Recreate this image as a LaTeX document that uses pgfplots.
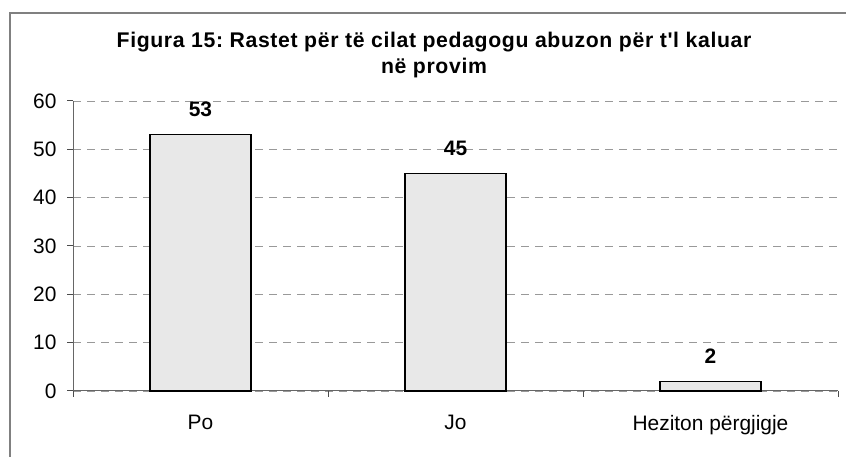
\documentclass[border=0pt]{standalone}
\usepackage{fontspec}
\setmainfont{Liberation Sans}
\newfontfamily\lib{Liberation Sans}
\usepackage{pgfplots}
\pgfplotsset{compat=1.18}
\definecolor{barfill}{RGB}{232,232,232}
\frenchspacing
\begin{document}
\begin{tikzpicture}
\useasboundingbox (0,0) rectangle (846bp,457bp);
\draw[black!50, line width=1.3bp] (10bp,-10bp) -- (10bp,444bp) -- (860bp,444bp);
\node[align=center, font=\lib\bfseries\fontsize{21.3}{27}\selectfont] at (434bp,402bp)
  {\addfontfeatures{LetterSpace=3}Figura 15: Rastet për të cilat pedagogu abuzon për t'l kaluar\\\addfontfeatures{LetterSpace=3}në provim};
\begin{axis}[
  at={(73bp,66bp)}, anchor=south west,
  width=765bp, height=290bp, scale only axis,
  xmin=-0.5, xmax=2.5, ymin=0, ymax=60,
  axis x line=bottom, axis y line=left,
  axis line style={-, black!60, line width=1bp},
  xtick={0,1,2}, xticklabels={Po,Jo,Heziton përgjigje},
  minor xtick={-0.5,0.5,1.5,2.5},
  ytick={0,10,...,60},
  tick align=outside,
  major tick length=6bp, minor tick length=6bp,
  x tick style={draw=none},
  minor x tick style={draw=black!70, line width=1bp},
  y tick style={black!70, line width=1bp},
  ymajorgrids,
  major grid style={gray!80, dash pattern=on 8bp off 6bp, line width=0.8bp},
  tick label style={font=\fontsize{21}{24}\selectfont},
  x tick label style={yshift=-15bp},
  y tick label style={xshift=-7bp},
  /pgf/number format/assume math mode=true,
  clip=false,
]
\addplot[ybar, bar width=101bp, fill=barfill, draw=black, line width=1.3bp,
  nodes near coords,
  nodes near coords style={font=\bfseries\fontsize{21}{24}\selectfont, yshift=14bp}]
  coordinates {(0,53) (1,45) (2,2)};
\end{axis}
\end{tikzpicture}
\end{document}
